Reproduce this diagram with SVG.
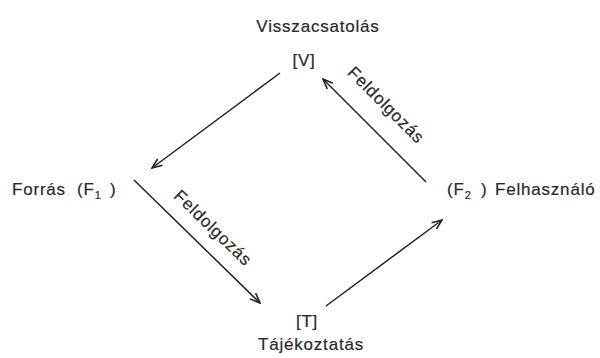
<svg xmlns="http://www.w3.org/2000/svg" width="600" height="358" viewBox="0 0 600 358">
<style>
  text { font-family: "Liberation Sans", Arial, sans-serif; font-size: 17px; fill: #2a2a2a; stroke: #2a2a2a; stroke-width: 0.2; letter-spacing: 0.8px; }
  .sub { font-size: 11px; }
  .conn line { stroke: #222; stroke-width: 1.5; fill: none; marker-end: url(#ah); }
</style>
<defs>
  <marker id="ah" viewBox="0 0 12 10" refX="11" refY="5" markerWidth="12" markerHeight="10" markerUnits="userSpaceOnUse" orient="auto">
    <path d="M1,1 L11,5 L1,9" fill="none" stroke="#222" stroke-width="1.6"/>
  </marker>
</defs>
<rect width="600" height="358" fill="#fff"/>
<g id="node-V">
  <text x="318" y="32" text-anchor="middle">Visszacsatolás</text>
  <text x="304" y="66" text-anchor="middle">[V]</text>
</g>
<g id="node-F1">
  <text x="12" y="195">Forrás<tspan x="77">(F</tspan><tspan class="sub" dy="4">1</tspan><tspan x="110" dy="-4">)</tspan></text>
</g>
<g id="node-F2">
  <text x="447" y="195">(F<tspan class="sub" dy="4">2</tspan><tspan x="481" dy="-4">)</tspan><tspan x="495">Felhasználó</tspan></text>
</g>
<g id="node-T">
  <text x="307" y="327" text-anchor="middle">[T]</text>
  <text x="311" y="350" text-anchor="middle">Tájékoztatás</text>
</g>
<g class="conn" id="connectors">
  <line x1="280" y1="73" x2="152" y2="168"/>
  <line x1="134" y1="180" x2="260" y2="303"/>
  <line x1="326" y1="306" x2="442" y2="220"/>
  <line x1="426" y1="182" x2="323" y2="79"/>
  <text transform="translate(209,232) rotate(44)" text-anchor="middle">Feldolgozás</text>
  <text transform="translate(382,109) rotate(45)" text-anchor="middle">Feldolgozás</text>
</g>
</svg>
